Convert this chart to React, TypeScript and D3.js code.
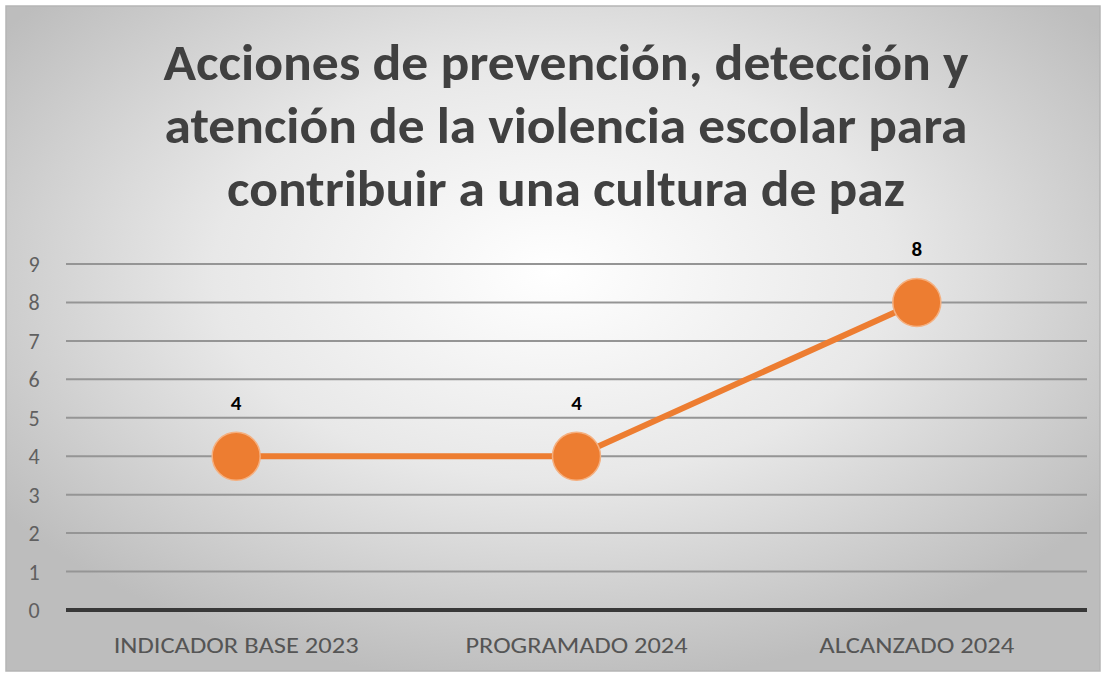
import React from "react";
import * as d3 from "d3";

const categories = ["INDICADOR BASE 2023", "PROGRAMADO 2024", "ALCANZADO 2024"];
const values = [4, 4, 8];
const yTicks = [0, 1, 2, 3, 4, 5, 6, 7, 8, 9];
const titleLines = [
  "Acciones de prevención, detección y",
  "atención de la violencia escolar para",
  "contribuir a una cultura de paz",
];
const titleWidths = [805, 803, 678];
const catWidths = [245, 222, 195];

export default function App() {
  const W = 1106, H = 677;
  const left = 66, right = 1087, top = 264, bottom = 610;
  const x = d3.scaleBand<string>().domain(categories).range([left, right]);
  const y = d3.scaleLinear().domain([0, 9]).range([bottom, top]);
  const line = d3.line<number>()
    .x((_, i) => (x(categories[i]) as number) + x.bandwidth() / 2)
    .y((d) => y(d));
  const font = "Calibri, Carlito, 'Open Sans', 'Noto Sans', sans-serif";
  return (
    <svg width={W} height={H} style={{ position: "absolute", left: 0, top: 0 }}>
      <defs>
        <radialGradient id="bg" cx="50%" cy="40%" r="62%">
          <stop offset="0%" stopColor="#ffffff" />
          <stop offset="50%" stopColor="#e8e8e8" />
          <stop offset="100%" stopColor="#bdbdbd" />
        </radialGradient>
      </defs>
      <rect x={0} y={0} width={W} height={H} fill="#ffffff" />
      <rect x={6} y={6} width={1094} height={665} fill="url(#bg)" stroke="#b5b5b5" strokeWidth={1.5} />
      {titleLines.map((t, i) => (
        <text key={i} x={566} y={80 + i * 63} textAnchor="middle" fontFamily={font}
          fontWeight="bold" fontSize={50} fill="#404040"
          textLength={titleWidths[i]} lengthAdjust="spacingAndGlyphs">{t}</text>
      ))}
      {yTicks.map((t) => (
        <g key={t}>
          {t > 0 && (
            <line x1={left} x2={right} y1={y(t)} y2={y(t)} stroke="#959595" strokeWidth={2} />
          )}
          <text x={34} y={y(t) + 8} textAnchor="middle" fontFamily={font} fontSize={22} fill="#606060">{t}</text>
        </g>
      ))}
      <line x1={left} x2={right} y1={y(0)} y2={y(0)} stroke="#383838" strokeWidth={4} />
      {categories.map((c, i) => (
        <text key={c} x={(x(c) as number) + x.bandwidth() / 2} y={653} textAnchor="middle"
          fontFamily={font} fontSize={22} fill="#555555"
          textLength={catWidths[i]} lengthAdjust="spacingAndGlyphs">{c}</text>
      ))}
      <path d={line(values) || ""} fill="none" stroke="#ed7d31" strokeWidth={6} />
      {values.map((v, i) => {
        const cx = (x(categories[i]) as number) + x.bandwidth() / 2;
        return (
          <g key={i}>
            <circle cx={cx} cy={y(v)} r={24} fill="#ed7d31" stroke="#f5b080" strokeWidth={1.5} />
            <text x={cx} y={y(v) - 46} textAnchor="middle" fontFamily={font} fontWeight="bold"
              fontSize={21} fill="#000000">{v}</text>
          </g>
        );
      })}
    </svg>
  );
}
